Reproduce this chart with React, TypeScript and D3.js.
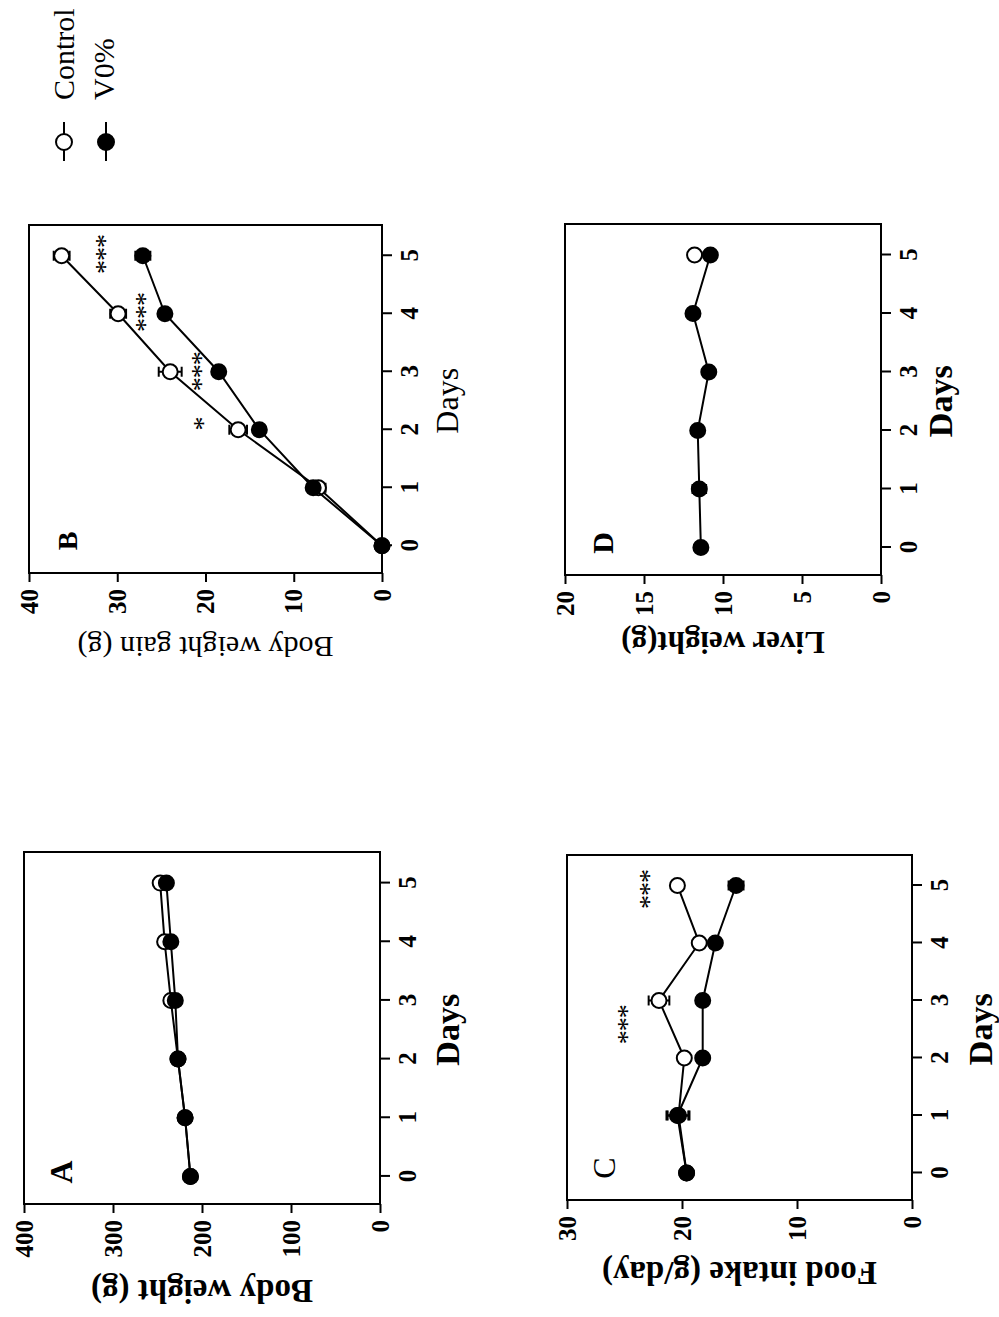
import React, { useEffect, useRef } from 'react';
import * as d3 from 'd3';

// shared x values
const days = [0, 1, 2, 3, 4, 5];

// A - body weight (g)
const bodyWeightControl = [213, 219, 227, 235, 242, 247];
const bodyWeightV0 = [213, 219, 227, 230, 235, 240];

// B - body weight gain (g)
const gainControl = [0, 7.2, 16.3, 24.0, 29.9, 36.3];
const gainControlErr = [0, 0.8, 1.0, 1.3, 0.9, 0.9];
const gainV0 = [0, 7.8, 13.9, 18.5, 24.6, 27.1];
const gainV0Err = [0, 0, 0, 0, 0, 0.85];

// C - food intake (g/day)
const foodControl = [19.6, 20.3, 19.8, 22.0, 18.5, 20.4];
const foodControlErr = [0, 0.95, 0, 0.9, 0, 0];
const foodV0 = [19.6, 20.4, 18.2, 18.2, 17.1, 15.3];
const foodV0Err = [0, 0.95, 0, 0, 0, 0.65];

// D - liver weight (g), control only measured on day 5
const liverControl = [null, null, null, null, null, 11.8];
const liverControlErr = [0, 0, 0, 0, 0, 0];
const liverV0 = [11.4, 11.5, 11.6, 10.9, 11.9, 10.8];
const liverV0Err = [0, 0.43, 0, 0, 0, 0];

// significance marks
const starsB = [
  { day: 2.1, value: 20.8, label: '*' },
  { day: 3.0, value: 21.1, label: '***' },
  { day: 4.02, value: 27.4, label: '***' },
  { day: 5.02, value: 31.9, label: '***' },
];
const starsC = [
  { day: 2.58, value: 25.2, label: '***' },
  { day: 4.93, value: 23.3, label: '***' },
];

const yTicksA = [0, 100, 200, 300, 400];
const yTicksB = [0, 10, 20, 30, 40];
const yTicksC = [0, 10, 20, 30];
const yTicksD = [0, 5, 10, 15, 20];

const FONT = '"Liberation Serif", "Times New Roman", serif';

const panels = [
  {
    letter: 'A', letterBold: true, letterSize: 32,
    left: 113, right: 465, top: 24, bottom: 380,
    yMax: 400, yTicks: yTicksA,
    title: 'Body weight (g)', titleBold: true, titleSize: 33, titleOffset: 76,
    daysBold: true, daysOffset: 79,
    control: bodyWeightControl, controlErr: null, v0: bodyWeightV0, v0Err: null,
    stars: [],
  },
  {
    letter: 'B', letterBold: true, letterSize: 28,
    left: 744, right: 1092, top: 29, bottom: 382,
    yMax: 40, yTicks: yTicksB,
    title: 'Body weight gain (g)', titleBold: false, titleSize: 30, titleOffset: 64,
    daysBold: false, daysOffset: 76,
    control: gainControl, controlErr: gainControlErr, v0: gainV0, v0Err: gainV0Err,
    stars: starsB,
  },
  {
    letter: 'C', letterBold: false, letterSize: 32,
    left: 117, right: 462, top: 567, bottom: 912,
    yMax: 30, yTicks: yTicksC,
    title: 'Food intake (g/day)', titleBold: true, titleSize: 33, titleOffset: 62,
    daysBold: true, daysOffset: 80,
    control: foodControl, controlErr: foodControlErr, v0: foodV0, v0Err: foodV0Err,
    stars: starsC,
  },
  {
    letter: 'D', letterBold: true, letterSize: 30,
    left: 742, right: 1093, top: 565, bottom: 881,
    yMax: 20, yTicks: yTicksD,
    title: 'Liver weight(g)', titleBold: true, titleSize: 31, titleOffset: 57,
    daysBold: true, daysOffset: 71,
    control: liverControl, controlErr: liverControlErr, v0: liverV0, v0Err: liverV0Err,
    stars: [],
  },
];

const App = () => {
  const plotRef = useRef(null);

  useEffect(() => {
    const root = d3.select(plotRef.current);
    root.selectAll('*').remove();

    panels.forEach((p) => {
      const g = root.append('g');
      const x = d3.scaleLinear().domain([-0.47, 5.53]).range([p.left, p.right]);
      const y = d3.scaleLinear().domain([0, p.yMax]).range([p.bottom, p.top]);

      // frame
      g.append('rect')
        .attr('x', p.left).attr('y', p.top)
        .attr('width', p.right - p.left).attr('height', p.bottom - p.top)
        .attr('fill', 'none').attr('stroke', '#000').attr('stroke-width', 2);

      // axes
      const xAxis = g.append('g')
        .attr('transform', `translate(0,${p.bottom})`)
        .call(d3.axisBottom(x).tickValues(days).tickFormat(d3.format('d')).tickSize(10).tickPadding(8));
      const yAxis = g.append('g')
        .attr('transform', `translate(${p.left},0)`)
        .call(d3.axisLeft(y).tickValues(p.yTicks).tickSize(9).tickPadding(7));
      [xAxis, yAxis].forEach((ax) => {
        ax.select('.domain').remove();
        ax.selectAll('line').attr('stroke', '#000').attr('stroke-width', 2);
        ax.selectAll('text')
          .attr('fill', '#000')
          .style('font-family', FONT)
          .style('font-size', '25px')
          .style('font-weight', 'bold');
      });

      // axis titles
      g.append('text')
        .attr('x', (x(0) + x(5)) / 2)
        .attr('y', p.bottom + p.daysOffset)
        .attr('text-anchor', 'middle')
        .style('font-family', FONT)
        .style('font-size', p.daysBold ? '34px' : '32px')
        .style('font-weight', p.daysBold ? 'bold' : 'normal')
        .text('Days');

      const ty = (p.top + p.bottom) / 2;
      const tx = p.left - p.titleOffset;
      g.append('text')
        .attr('transform', `translate(${tx},${ty}) rotate(-90)`)
        .attr('text-anchor', 'middle')
        .style('font-family', FONT)
        .style('font-size', p.titleSize + 'px')
        .style('font-weight', p.titleBold ? 'bold' : 'normal')
        .text(p.title);

      // panel letter
      g.append('text')
        .attr('x', p.left + 32)
        .attr('y', p.top + 48)
        .attr('text-anchor', 'middle')
        .style('font-family', FONT)
        .style('font-size', p.letterSize + 'px')
        .style('font-weight', p.letterBold ? 'bold' : 'normal')
        .text(p.letter);

      const series = [
        { values: p.control, err: p.controlErr, fill: '#fff' },
        { values: p.v0, err: p.v0Err, fill: '#000' },
      ];

      const line = d3.line()
        .defined((d) => d[1] != null)
        .x((d) => x(d[0]))
        .y((d) => y(d[1]));

      series.forEach((s) => {
        const pts = days.map((d, i) => [d, s.values[i], s.err ? s.err[i] : 0]);
        const valid = pts.filter((d) => d[1] != null);
        if (valid.length > 1) {
          g.append('path')
            .datum(pts)
            .attr('d', line)
            .attr('fill', 'none')
            .attr('stroke', '#000')
            .attr('stroke-width', 2);
        }
        const withErr = valid.filter((d) => d[2] > 0);
        const eb = g.append('g');
        withErr.forEach((d) => {
          const cx = x(d[0]);
          const y0 = y(d[1] - d[2]);
          const y1 = y(d[1] + d[2]);
          eb.append('line').attr('x1', cx).attr('x2', cx).attr('y1', y0).attr('y2', y1);
          eb.append('line').attr('x1', cx - 5).attr('x2', cx + 5).attr('y1', y0).attr('y2', y0);
          eb.append('line').attr('x1', cx - 5).attr('x2', cx + 5).attr('y1', y1).attr('y2', y1);
        });
        eb.selectAll('line').attr('stroke', '#000').attr('stroke-width', 2);
        g.append('g').selectAll('circle')
          .data(valid)
          .join('circle')
          .attr('cx', (d) => x(d[0]))
          .attr('cy', (d) => y(d[1]))
          .attr('r', 7.5)
          .attr('fill', s.fill)
          .attr('stroke', '#000')
          .attr('stroke-width', 2);
      });

      // asterisks
      g.append('g').selectAll('text')
        .data(p.stars)
        .join('text')
        .attr('x', (d) => x(d.day))
        .attr('y', (d) => y(d.value) + 14)
        .attr('text-anchor', 'middle')
        .attr('letter-spacing', -1)
        .attr('fill', '#000')
        .style('font-family', FONT)
        .style('font-size', '28px')
        .text((d) => d.label);
    });

    // legend
    const legend = root.append('g');
    [
      { label: 'Control', fill: '#fff', cy: 64, ty: 74 },
      { label: 'V0%', fill: '#000', cy: 106, ty: 114 },
    ].forEach((item) => {
      legend.append('line')
        .attr('x1', 1156).attr('x2', 1195)
        .attr('y1', item.cy).attr('y2', item.cy)
        .attr('stroke', '#000').attr('stroke-width', 2);
      legend.append('circle')
        .attr('cx', 1175).attr('cy', item.cy).attr('r', 8)
        .attr('fill', item.fill).attr('stroke', '#000').attr('stroke-width', 2);
      legend.append('text')
        .attr('x', 1217).attr('y', item.ty)
        .style('font-family', FONT)
        .style('font-size', '30px')
        .text(item.label);
    });
  }, []);

  return (
    <svg
      width={999}
      height={1317}
      style={{ position: 'absolute', top: 0, left: 0, background: '#fff' }}
    >
      <rect width={999} height={1317} fill="#fff" />
      {/* figure is laid out landscape and turned a quarter turn */}
      <g ref={plotRef} transform="translate(0,1317) rotate(-90)" />
    </svg>
  );
};

export default App;
